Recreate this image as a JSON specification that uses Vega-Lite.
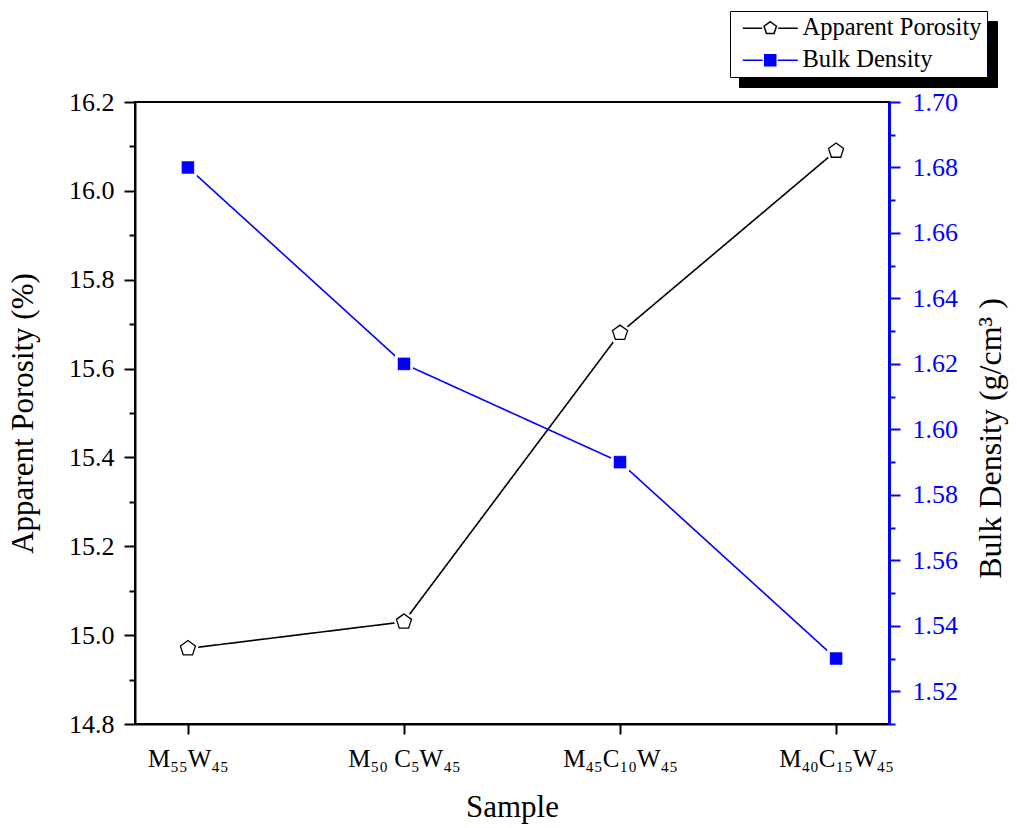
{
  "$schema": "https://vega.github.io/schema/vega-lite/v6.json",
  "width": 754,
  "height": 622,
  "autosize": {"type": "none"},
  "padding": {"left": 135, "top": 102, "right": 128, "bottom": 104},
  "background": "white",
  "config": {
    "font": "Liberation Serif",
    "view": {"stroke": "black", "strokeWidth": 2},
    "axis": {"grid": false, "labelFont": "Liberation Serif", "titleFont": "Liberation Serif", "titleFontWeight": "normal", "labelFlush": false, "labelOverlap": false}
  },
  "data": {
    "values": [
      {"sample": "M₅₅W₄₅", "porosity": 14.97, "density": 1.68},
      {"sample": "M₅₀ C₅W₄₅", "porosity": 15.03, "density": 1.62},
      {"sample": "M₄₅C₁₀W₄₅", "porosity": 15.68, "density": 1.59},
      {"sample": "M₄₀C₁₅W₄₅", "porosity": 16.09, "density": 1.53}
    ]
  },
  "encoding": {
    "x": {
      "field": "sample", "type": "ordinal", "sort": null,
      "scale": {"type": "point", "padding": 0.245},
      "axis": {
        "title": "Sample", "titleFont": "Liberation Serif", "titleFontSize": 31, "titlePadding": 21, "titleColor": "black",
        "labelFont": "Liberation Serif", "labelFontSize": 25, "labelColor": "black", "labelAngle": 0, "labelPadding": 12,
        "domainColor": "black", "domainWidth": 2, "tickColor": "black", "tickWidth": 2, "tickSize": 10
      }
    }
  },
  "layer": [
    {
      "encoding": {
        "y": {
          "field": "porosity", "type": "quantitative",
          "scale": {"domain": [14.8, 16.2], "zero": false, "nice": false},
          "axis": {
            "orient": "left",
            "title": "Apparent Porosity (%)", "titleFont": "Liberation Serif", "titleFontSize": 31, "titlePadding": 29, "titleColor": "black",
            "values": [14.8, 14.9, 15.0, 15.1, 15.2, 15.3, 15.4, 15.5, 15.6, 15.7, 15.8, 15.9, 16.0, 16.1, 16.2],
            "labelExpr": "round(datum.value*10) % 2 == 0 ? format(datum.value, '.1f') : ''",
            "labelFont": "Liberation Serif", "labelFontSize": 26, "labelColor": "black", "labelPadding": 10,
            "domainColor": "black", "domainWidth": 2, "tickColor": "black", "tickWidth": 2,
            "tickSize": {"condition": {"test": "round(datum.value*10) % 2 == 0", "value": 11}, "value": 6}
          }
        }
      },
      "layer": [
        {
          "mark": {"type": "line", "strokeWidth": 1.6},
          "encoding": {
            "stroke": {
              "datum": "Apparent Porosity", "type": "nominal",
              "scale": {"domain": ["Apparent Porosity", "Bulk Density"], "range": ["black", "blue"]},
              "legend": {
                "title": null, "orient": "none", "legendX": 595, "legendY": -91, "zindex": 2,
                "strokeColor": "black", "fillColor": "white", "padding": 5,
                "labelFont": "Liberation Serif", "labelFontSize": 24.5, "labelColor": "black", "labelLimit": 400,
                "symbolSize": 400, "symbolOffset": 23, "labelOffset": 20, "rowPadding": 7,
                "symbolStrokeWidth": 1.5,
                "encode": {
                  "symbols": {
                    "update": {
                      "shape": {"signal": "datum.value === 'Apparent Porosity' ? 'M-2.75,0H-0.8M0.8,0H2.75M0,-0.65L0.618,-0.201L0.382,0.526L-0.382,0.526L-0.618,-0.201Z' : 'M-2.75,0H-0.75M0.75,0H2.75M-0.55,-0.55H0.55V0.55H-0.55Z'"},
                      "fill": {"signal": "datum.value === 'Apparent Porosity' ? 'white' : 'blue'"},
                      "stroke": {"signal": "datum.value === 'Apparent Porosity' ? 'black' : 'blue'"},
                      "strokeWidth": {"value": 1.5},
                      "opacity": {"value": 1},
                      "fillOpacity": {"value": 1},
                      "size": {"value": 400}
                    }
                  }
                }
              }
            },
            "strokeDash": {
              "datum": "AP", "type": "nominal",
              "scale": {"domain": ["AP", "BD"], "range": [[1, 0], [1, 0]]},
              "legend": {
                "title": null, "orient": "none", "legendX": 604, "legendY": -81, "zindex": 1,
                "strokeColor": "black", "fillColor": "black", "padding": 5,
                "labelExpr": "''",
                "labelFont": "Liberation Serif", "labelFontSize": 24.5, "labelColor": "black",
                "symbolSize": 576, "symbolOffset": 221, "labelOffset": 0, "rowPadding": 7,
                "symbolStrokeColor": "black", "symbolFillColor": "black", "symbolStrokeWidth": 1
              }
            }
          }
        },
        {
          "mark": {"type": "point", "shape": "M0,-1L0.951,-0.309L0.588,0.809L-0.588,0.809L-0.951,-0.309Z", "size": 250, "filled": true, "fill": "white", "stroke": "white", "strokeWidth": 6, "opacity": 1}
        },
        {
          "mark": {"type": "point", "shape": "M0,-1L0.951,-0.309L0.588,0.809L-0.588,0.809L-0.951,-0.309Z", "size": 250, "filled": true, "fill": "white", "stroke": "black", "strokeWidth": 1.3, "opacity": 1}
        }
      ]
    },
    {
      "encoding": {
        "y": {
          "field": "density", "type": "quantitative",
          "scale": {"domain": [1.51, 1.70], "zero": false, "nice": false},
          "axis": {
            "orient": "right",
            "title": "Bulk Density (g/cm³ )", "titleFont": "Liberation Serif", "titleFontSize": 32, "titlePadding": 18, "titleColor": "black", "titleAngle": 270, "titleBaseline": "top", "titleY": 336,
            "values": [1.51, 1.52, 1.53, 1.54, 1.55, 1.56, 1.57, 1.58, 1.59, 1.60, 1.61, 1.62, 1.63, 1.64, 1.65, 1.66, 1.67, 1.68, 1.69, 1.70],
            "labelExpr": "round(datum.value*100) % 2 == 0 ? format(datum.value, '.2f') : ''",
            "labelFont": "Liberation Serif", "labelFontSize": 26, "labelColor": "blue", "labelPadding": 12,
            "domainColor": "blue", "domainWidth": 3, "tickColor": "blue", "tickWidth": 2,
            "tickSize": {"condition": {"test": "round(datum.value*100) % 2 == 0", "value": 11}, "value": 6}
          }
        }
      },
      "layer": [
        {
          "mark": {"type": "line", "strokeWidth": 1.6},
          "encoding": {
            "stroke": {"datum": "Bulk Density", "type": "nominal"},
            "strokeDash": {"datum": "BD", "type": "nominal"}
          }
        },
        {
          "mark": {"type": "point", "shape": "square", "size": 144, "filled": true, "fill": "white", "stroke": "white", "strokeWidth": 6, "opacity": 1}
        },
        {
          "mark": {"type": "point", "shape": "square", "size": 144, "filled": true, "fill": "blue", "stroke": "blue", "strokeWidth": 0.5, "opacity": 1}
        }
      ]
    }
  ],
  "resolve": {"scale": {"y": "independent"}}
}
